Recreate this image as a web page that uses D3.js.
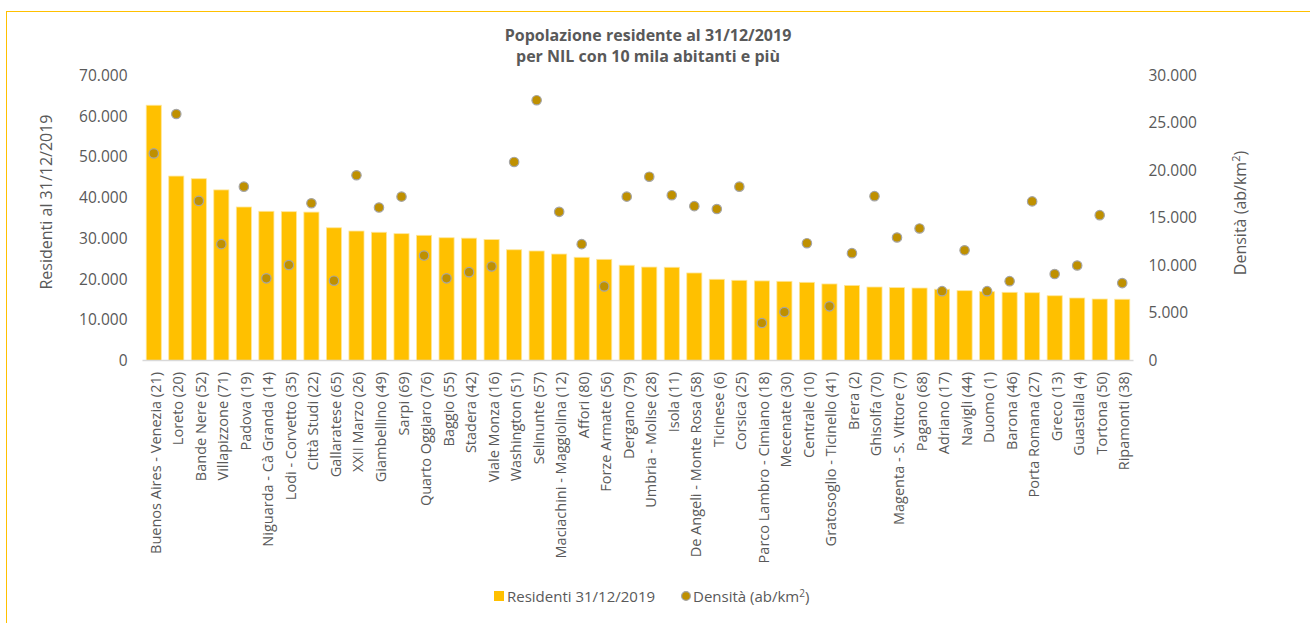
<!DOCTYPE html>
<html>
<head>
<meta charset="utf-8">
<script src="https://cdn.jsdelivr.net/npm/d3@7"></script>
<style>
  html, body { margin: 0; padding: 0; background: #ffffff; }
  svg { display: block; }
  text { font-family: "Open Sans", Lato, sans-serif; }
</style>
</head>
<body>
<svg id="chart" width="1310" height="623"></svg>
<script>
const categories = [
  "Buenos Aires - Venezia (21)", "Loreto (20)", "Bande Nere (52)", "Villapizzone (71)",
  "Padova (19)", "Niguarda - Cà Granda (14)", "Lodi - Corvetto (35)", "Città Studi (22)",
  "Gallaratese (65)", "XXII Marzo (26)", "Giambellino (49)", "Sarpi (69)",
  "Quarto Oggiaro (76)", "Baggio (55)", "Stadera (42)", "Viale Monza (16)",
  "Washington (51)", "Selinunte (57)", "Maciachini - Maggiolina (12)", "Affori (80)",
  "Forze Armate (56)", "Dergano (79)", "Umbria - Molise (28)", "Isola (11)",
  "De Angeli - Monte Rosa (58)", "Ticinese (6)", "Corsica (25)", "Parco Lambro - Cimiano (18)",
  "Mecenate (30)", "Centrale (10)", "Gratosoglio - Ticinello (41)", "Brera (2)",
  "Ghisolfa (70)", "Magenta - S. Vittore (7)", "Pagano (68)", "Adriano (17)",
  "Navigli (44)", "Duomo (1)", "Barona (46)", "Porta Romana (27)",
  "Greco (13)", "Guastalla (4)", "Tortona (50)", "Ripamonti (38)"
];

const residenti = [
  62700, 45300, 44650, 41900, 37700, 36650, 36550, 36450,
  32600, 31800, 31500, 31150, 30750, 30150, 30050, 29700,
  27200, 26900, 26150, 25350, 24850, 23400, 22950, 22900,
  21500, 19950, 19700, 19550, 19450, 19200, 18800, 18450,
  18050, 17900, 17800, 17500, 17150, 16900, 16750, 16650,
  15900, 15350, 15100, 15050
];

const densita = [
  21800, 25950, 16800, 12250, 18300, 8650, 10050, 16550,
  8400, 19500, 16100, 17250, 11050, 8650, 9300, 9900,
  20900, 27400, 15650, 12250, 7800, 17250, 19350, 17400,
  16250, 15950, 18300, 3950, 5100, 12350, 5700, 11300,
  17300, 12950, 13900, 7300, 11600, 7300, 8350, 16750,
  9100, 10000, 15300, 8150
];

const leftTicks = [0, 10000, 20000, 30000, 40000, 50000, 60000, 70000];
const rightTicks = [0, 5000, 10000, 15000, 20000, 25000, 30000];

const titleLines = ["Popolazione residente al 31/12/2019", "per NIL con 10 mila abitanti e più"];
const leftTitle = "Residenti al 31/12/2019";
const legendBar = "Residenti 31/12/2019";

const svg = d3.select("#chart");
const textColor = "#595959";
const fmt = v => d3.format(",")(v).replace(/,/g, ".");

const plot = { left: 142.5, right: 1133.5, top: 75.5, bottom: 360.5 };

// outer frame
svg.append("rect")
  .attr("x", 6.5).attr("y", 11.5).attr("width", 1400).attr("height", 700)
  .attr("fill", "none").attr("stroke", "#FFC000").attr("stroke-width", 1);

const x = d3.scaleBand().domain(categories).range([plot.left, plot.right]).paddingInner(0.33).paddingOuter(0.165);
const yL = d3.scaleLinear().domain([0, 70000]).range([plot.bottom, plot.top]);
const yR = d3.scaleLinear().domain([0, 30000]).range([plot.bottom, plot.top]);

// title
const title = svg.append("text")
  .attr("x", 648).attr("y", 41)
  .attr("text-anchor", "middle")
  .attr("font-size", 16).attr("font-weight", "bold").attr("fill", textColor);
titleLines.forEach((t, i) => {
  title.append("tspan").attr("x", 648).attr("dy", i === 0 ? 0 : 21).text(t);
});

// left axis
const axL = svg.append("g").attr("transform", `translate(${plot.left - 15},0)`)
  .call(d3.axisLeft(yL).tickValues(leftTicks).tickFormat(fmt).tickSize(0).tickPadding(0));
axL.select(".domain").remove();
axL.selectAll("text").attr("font-size", 15.5).attr("fill", textColor).attr("font-family", "'Open Sans', sans-serif");

// right axis
const axR = svg.append("g").attr("transform", `translate(${plot.right + 15},0)`)
  .call(d3.axisRight(yR).tickValues(rightTicks).tickFormat(fmt).tickSize(0).tickPadding(0));
axR.select(".domain").remove();
axR.selectAll("text").attr("font-size", 15.5).attr("fill", textColor).attr("font-family", "'Open Sans', sans-serif");

// axis titles
svg.append("text")
  .attr("transform", `translate(52,${(plot.top + plot.bottom) / 2 - 16}) rotate(-90)`)
  .attr("text-anchor", "middle").attr("font-size", 16).attr("fill", textColor)
  .text(leftTitle);

const rt = svg.append("text")
  .attr("transform", `translate(1246,${(plot.top + plot.bottom) / 2 - 5}) rotate(-90)`)
  .attr("text-anchor", "middle").attr("font-size", 16).attr("fill", textColor);
rt.append("tspan").text("Densità (ab/km");
rt.append("tspan").attr("font-size", 11).attr("dy", -6).text("2");
rt.append("tspan").attr("dy", 6).text(")");

// bars
svg.append("g").selectAll("rect")
  .data(categories)
  .join("rect")
  .attr("x", d => x(d))
  .attr("width", x.bandwidth())
  .attr("y", (d, i) => yL(residenti[i]))
  .attr("height", (d, i) => yL(0) - yL(residenti[i]))
  .attr("fill", "#FFC000")
  .attr("stroke", "#FFE699").attr("stroke-width", 0.8);

// x axis line
svg.append("line")
  .attr("x1", plot.left).attr("x2", plot.right)
  .attr("y1", plot.bottom).attr("y2", plot.bottom)
  .attr("stroke", "#D9D9D9").attr("stroke-width", 1.5);

// category labels
svg.append("g").selectAll("text")
  .data(categories)
  .join("text")
  .attr("transform", d => `translate(${x(d) + x.bandwidth() / 2 + 7},${plot.bottom + 11.5}) rotate(-90)`)
  .attr("text-anchor", "end")
  .attr("font-size", 14.5).attr("fill", textColor)
  .text(d => d);

// density dots
svg.append("g").selectAll("circle")
  .data(categories)
  .join("circle")
  .attr("cx", d => x(d) + x.bandwidth() / 2)
  .attr("cy", (d, i) => yR(densita[i]))
  .attr("r", 4.7)
  .attr("fill", "#BF9000")
  .attr("stroke", "#A5A5A5").attr("stroke-width", 1.2);

// legend
const lg = svg.append("g");
lg.append("rect").attr("x", 494).attr("y", 591).attr("width", 10).attr("height", 10).attr("fill", "#FFC000");
lg.append("text").attr("x", 507).attr("y", 601.5).attr("font-size", 15).attr("fill", textColor).text(legendBar);
lg.append("circle").attr("cx", 686).attr("cy", 596).attr("r", 4.4).attr("fill", "#BF9000").attr("stroke", "#A5A5A5").attr("stroke-width", 1.2);
const lt = lg.append("text").attr("x", 693).attr("y", 601.5).attr("font-size", 15).attr("fill", textColor);
lt.append("tspan").text("Densità (ab/km");
lt.append("tspan").attr("font-size", 10).attr("dy", -5).text("2");
lt.append("tspan").attr("dy", 5).text(")");
</script>
</body>
</html>
